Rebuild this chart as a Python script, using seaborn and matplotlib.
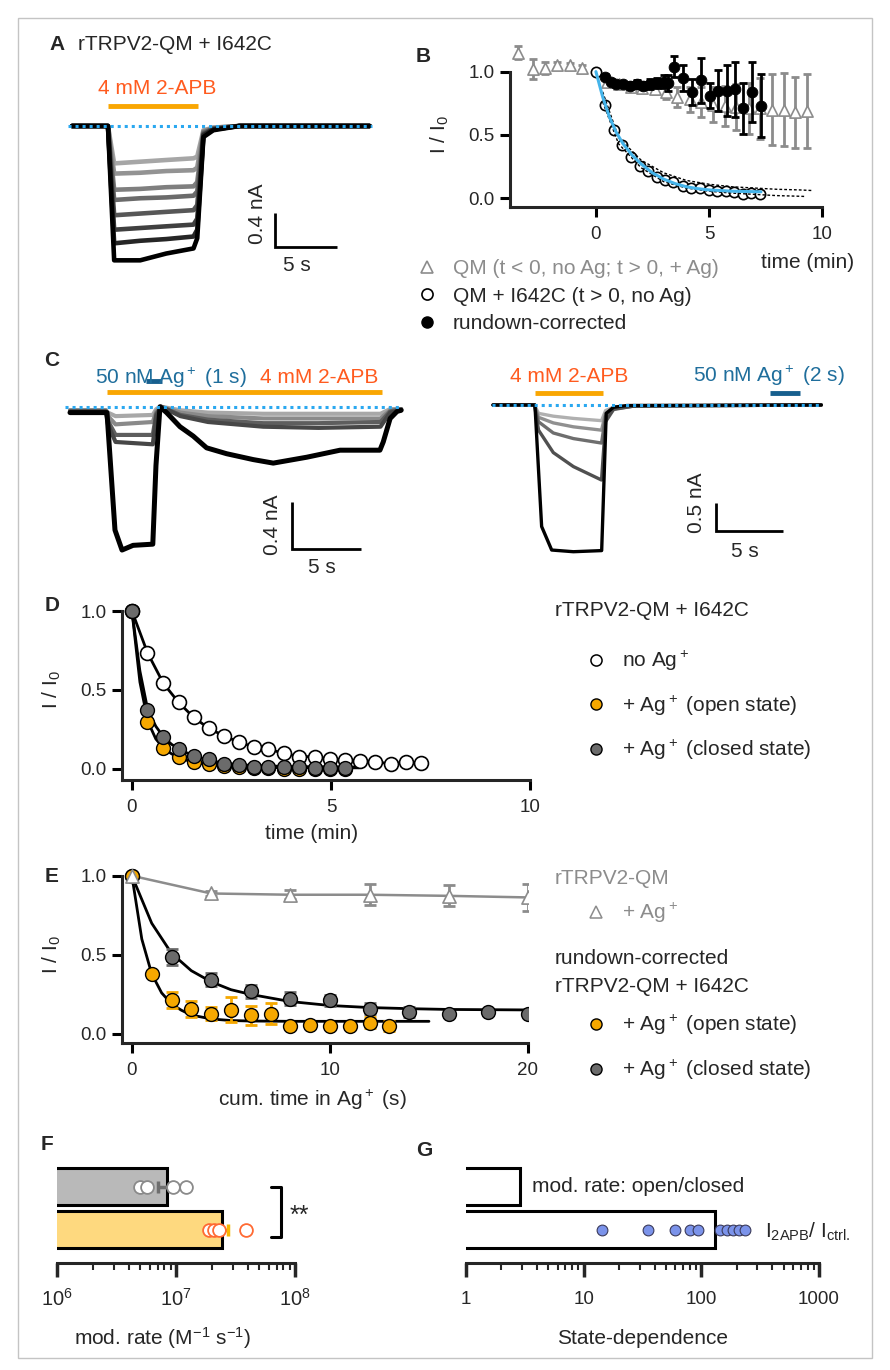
import numpy as np
import matplotlib
matplotlib.use("Agg")
import matplotlib.pyplot as plt
import seaborn as sns
from matplotlib.lines import Line2D
from matplotlib.patches import Rectangle

# ---------------- data ----------------
# A: whole-cell current sweeps (nA) at shared time points (s)
A_time = [0, 2.9, 3.4, 5.5, 7.6, 9.8, 10.1, 10.6, 11.4, 13.5, 24.0]
A_sweeps = [
    [0, 0, -0.44, -0.42, -0.40, -0.38, -0.36, -0.05, -0.02, 0, 0],
    [0, 0, -0.56, -0.55, -0.53, -0.52, -0.49, -0.06, -0.02, 0, 0],
    [0, 0, -0.75, -0.74, -0.72, -0.71, -0.66, -0.07, -0.03, 0, 0],
    [0, 0, -0.87, -0.85, -0.84, -0.82, -0.77, -0.08, -0.03, 0, 0],
    [0, 0, -1.05, -1.03, -1.01, -0.99, -0.93, -0.09, -0.03, 0, 0],
    [0, 0, -1.22, -1.20, -1.18, -1.16, -1.09, -0.10, -0.04, 0, 0],
    [0, 0, -1.38, -1.35, -1.33, -1.30, -1.22, -0.11, -0.04, 0, 0],
    [0, 0, -1.58, -1.58, -1.50, -1.44, -1.32, -0.13, -0.05, 0, 0],
]
A_apb = (2.9, 10.2)

# C left: 2-APB with a 1 s Ag+ pulse
CL_gray_time = [0, 2.6, 2.75, 3.3, 6.0, 6.25, 6.6, 8.0, 10.0, 14.0, 18.0, 22.5, 23.2, 24.0]
CL_gray = [
    [-0.03, -0.03, -0.05, -0.08, -0.07, -0.02, 0.0, -0.03, -0.05, -0.06, -0.06, -0.06, -0.02, -0.02],
    [-0.03, -0.03, -0.08, -0.15, -0.13, -0.04, 0.0, -0.05, -0.08, -0.10, -0.10, -0.10, -0.03, -0.02],
    [-0.04, -0.04, -0.12, -0.24, -0.24, -0.06, 0.0, -0.07, -0.11, -0.14, -0.14, -0.13, -0.04, -0.02],
    [-0.04, -0.04, -0.15, -0.30, -0.32, -0.08, 0.0, -0.08, -0.13, -0.17, -0.18, -0.17, -0.05, -0.03],
]
CL_black_time = [0, 2.54, 2.68, 3.26, 3.77, 4.57, 6.0, 6.23, 6.52, 7.0, 7.97, 8.93, 9.9,
                 11.35, 13.28, 14.73, 17.15, 19.57, 22.46, 22.7, 23.2, 23.7, 24.0]
CL_black = [-0.05, -0.05, -0.05, -1.05, -1.22, -1.18, -1.17, -0.5, 0.0, -0.05, -0.17, -0.25, -0.35,
            -0.40, -0.45, -0.48, -0.43, -0.37, -0.37, -0.3, -0.1, -0.04, -0.03]
CL_apb = (2.68, 22.6)
CL_ag = (5.5, 6.7)

# C right: 2-APB, then a 2 s Ag+ pulse in the closed state
CR_gray_time = [0, 3.1, 3.4, 4.5, 6.0, 8.1, 8.4, 9.0, 10.5, 24.5]
CR_gray = [
    [0, 0, -0.15, -0.20, -0.24, -0.28, -0.10, -0.04, -0.01, 0],
    [0, 0, -0.22, -0.32, -0.39, -0.45, -0.15, -0.05, -0.02, 0],
    [0, 0, -0.30, -0.50, -0.60, -0.68, -0.20, -0.07, -0.02, 0],
    [0, 0, -0.45, -0.85, -1.10, -1.34, -0.30, -0.08, -0.02, 0],
]
CR_black_time = [0, 3.13, 3.63, 4.38, 6.0, 8.11, 8.45, 9.0, 10.0, 24.5]
CR_black = [0, 0, -2.17, -2.59, -2.62, -2.60, -0.15, -0.04, -0.01, 0]
CR_apb = (3.13, 8.2)
CR_ag = (20.7, 22.9)

# B: QM (gray triangles)
B_qm_t = [-3.45, -2.8, -2.25, -1.7, -1.15, -0.6, 0.5, 1.0, 1.55, 2.05, 2.6, 3.1, 3.6, 4.15,
          4.65, 5.2, 5.7, 6.2, 6.75, 7.25, 7.8, 8.3, 8.8, 9.35]
B_qm = [1.15, 1.02, 1.03, 1.05, 1.05, 1.03, 0.92, 0.90, 0.88, 0.87, 0.86, 0.84, 0.80, 0.78,
        0.76, 0.74, 0.73, 0.72, 0.71, 0.71, 0.70, 0.70, 0.68, 0.69]
B_qm_err = [0.05, 0.08, 0.05, 0.03, 0.02, 0.02, 0.02, 0.02, 0.03, 0.03, 0.04, 0.06, 0.08, 0.10,
            0.12, 0.14, 0.16, 0.18, 0.20, 0.24, 0.28, 0.29, 0.28, 0.29]
# B: rundown-corrected (black)
B_rc_t = [0.4, 0.65, 0.9, 1.2, 1.5, 1.8, 2.1, 2.4, 2.7, 3.0, 3.2, 3.45, 3.85, 4.25, 4.65, 5.05,
          5.4, 5.8, 6.15, 6.5, 6.9, 7.3]
B_rc = [0.96, 0.92, 0.90, 0.90, 0.89, 0.90, 0.89, 0.90, 0.91, 0.92, 0.91, 1.04, 0.95, 0.84,
        0.93, 0.81, 0.85, 0.85, 0.86, 0.71, 0.84, 0.73]
B_rc_err = [0.02, 0.02, 0.02, 0.02, 0.03, 0.03, 0.03, 0.04, 0.04, 0.05, 0.06, 0.08, 0.10, 0.10,
            0.18, 0.10, 0.16, 0.20, 0.22, 0.20, 0.24, 0.25]
# B: exponential fit of I642C with 95% band
B_fit_t = [0, 0.3, 0.6, 0.9, 1.2, 1.6, 2.0, 2.5, 3.0, 3.5, 4.0, 4.5, 5.0, 6.0, 7.3]
B_fit = [1.0, 0.80, 0.64, 0.52, 0.43, 0.34, 0.27, 0.20, 0.15, 0.115, 0.09, 0.075, 0.065, 0.055, 0.05]
B_hi_t = [0.3, 1, 2, 3, 4, 5, 6, 7, 8, 9, 9.6]
B_hi = [0.84, 0.48, 0.30, 0.20, 0.14, 0.11, 0.09, 0.08, 0.07, 0.065, 0.06]
B_lo_t = [0.3, 1, 2, 3, 4, 5, 6, 7, 8, 9, 9.3]
B_lo = [0.76, 0.43, 0.24, 0.13, 0.08, 0.055, 0.04, 0.03, 0.02, 0.015, 0.013]

# D: I642C, no Ag+ / + Ag+ open / + Ag+ closed
D_t = [0, 0.39, 0.79, 1.17, 1.55, 1.93, 2.3, 2.69, 3.06, 3.43, 3.83, 4.2, 4.6, 4.98, 5.36,
       5.74, 6.11, 6.5, 6.88, 7.26]
D_noag = [1.0, 0.736, 0.542, 0.422, 0.327, 0.257, 0.211, 0.169, 0.141, 0.124, 0.099, 0.078,
          0.078, 0.063, 0.057, 0.053, 0.046, 0.032, 0.044, 0.036]
D_ag_t = [0, 0.39, 0.79, 1.17, 1.55, 1.93, 2.3, 2.69, 3.06, 3.43, 3.83, 4.2, 4.6, 4.98, 5.36]
D_open = [1.0, 0.297, 0.131, 0.074, 0.042, 0.03, 0.02, 0.01, 0.005, 0.005, 0.0, 0.0, 0.0, 0.0, 0.0]
D_open_err = [0, 0.025, 0.02, 0.015, 0.01, 0.008, 0.005, 0.005, 0, 0, 0, 0, 0, 0, 0]
D_closed = [1.0, 0.373, 0.205, 0.124, 0.082, 0.063, 0.032, 0.025, 0.015, 0.015, 0.015, 0.011,
            0.004, 0.004, 0.004]
D_closed_err = [0, 0.03, 0.02, 0.015, 0.01, 0.008, 0.005, 0.005, 0, 0, 0, 0, 0, 0, 0]
D_fit_t = [0, 0.2, 0.4, 0.6, 0.8, 1.0, 1.3, 1.6, 2.0, 2.5, 3.0, 4.0, 5.7]
D_fit_open = [1.0, 0.55, 0.30, 0.19, 0.13, 0.095, 0.06, 0.04, 0.025, 0.015, 0.01, 0.008, 0.007]
D_fit_closed = [1.0, 0.62, 0.37, 0.27, 0.20, 0.155, 0.11, 0.08, 0.05, 0.032, 0.022, 0.015, 0.012]

# E: vs cumulative time in Ag+
E_qm_t = [0, 4, 8, 12, 16, 20]
E_qm = [1.0, 0.888, 0.88, 0.88, 0.873, 0.863]
E_qm_err = [0, 0.015, 0.03, 0.066, 0.066, 0.088]
E_open_t = [0, 1, 2, 3, 4, 5, 6, 7, 8, 9, 10, 11, 12, 13]
E_open = [1.0, 0.378, 0.217, 0.156, 0.129, 0.154, 0.118, 0.129, 0.049, 0.055, 0.051, 0.049, 0.072, 0.051]
E_open_err = [0, 0.01, 0.05, 0.05, 0.04, 0.08, 0.06, 0.065, 0.01, 0.01, 0.01, 0.01, 0.035, 0.03]
E_closed_t = [0, 2, 4, 6, 8, 10, 12, 14, 16, 18, 20]
E_closed = [1.0, 0.487, 0.344, 0.27, 0.224, 0.213, 0.16, 0.14, 0.124, 0.14, 0.129]
E_closed_err = [0, 0.05, 0.04, 0.04, 0.04, 0.035, 0.035, 0.03, 0.015, 0.02, 0.015]
E_fit_open_t = [0, 0.5, 1, 1.5, 2, 2.5, 3, 4, 5, 6, 8, 10, 15]
E_fit_open = [1.0, 0.60, 0.38, 0.26, 0.19, 0.15, 0.12, 0.095, 0.085, 0.082, 0.08, 0.08, 0.08]
E_fit_closed_t = [0, 1, 2, 3, 4, 5, 6, 8, 10, 12, 14, 16, 20]
E_fit_closed = [1.0, 0.70, 0.51, 0.40, 0.33, 0.28, 0.25, 0.205, 0.18, 0.167, 0.16, 0.155, 0.152]

# F: modification rates (M^-1 s^-1)
F_groups = ["closed", "open"]
F_mean = [8.35e6, 2.42e7]
F_sem = [1.25e6, 3.3e6]
F_closed_pts = [4.98e6, 5.74e6, 9.5e6, 1.21e7]
F_open_pts = [1.9e7, 2.09e7, 2.31e7, 3.85e7]

# G: state dependence
G_groups = ["rate", "ratio"]
G_mean = [2.87, 130]
G_ratio_pts = [14.2, 35.3, 59.4, 79.7, 93.7, 145, 165, 185, 210, 235]

# ---------------- style ----------------
W, H = 890, 1370
FS = 15
TICK = 13.5
ORANGE_TXT = "#ff5b1f"
ORANGE_BAR = "#f9a602"
BLUE_TXT = "#1f6e9c"
BLUE_BAR = "#175f8e"
BASE_BLUE = "#2aa8f0"
ORANGE = "#f6a800"
DGRAY = "#6b6b6b"
LGRAY = "#8c8c8c"

sns.set_theme(style="ticks")
plt.rcParams["font.family"] = ["Liberation Sans", "DejaVu Sans"]
plt.rcParams.update({
    "mathtext.fontset": "custom",
    "mathtext.rm": "Liberation Sans",
    "mathtext.it": "Liberation Sans:italic",
    "mathtext.bf": "Liberation Sans:bold",
    "mathtext.default": "regular",
    "axes.linewidth": 2.2,
})

fig = plt.figure(figsize=(W / 100, H / 100), dpi=100)


def px_axes(x0, y0, x1, y1):
    return fig.add_axes([x0 / W, 1 - y1 / H, (x1 - x0) / W, (y1 - y0) / H])


def ftext(x, y, s, **kw):
    kw.setdefault("va", "center")
    kw.setdefault("ha", "left")
    kw.setdefault("fontsize", FS)
    fig.text(x / W, 1 - y / H, s, **kw)


def letter(x, y, s):
    ftext(x, y, s, fontsize=15, fontweight="bold", ha="center")


def traces(ax, t, sweeps, colors, lw):
    for y, c in zip(sweeps, colors):
        sns.lineplot(x=t, y=y, color=c, lw=lw, estimator=None, sort=False, ax=ax)


def scalebar(ax, x0, y0, dx, dy, xlab, ylab, xlab_pos, ylab_pos):
    ax.plot([x0, x0, x0 + dx], [y0 + dy, y0, y0], color="black", lw=2.0,
            solid_joinstyle="miter", solid_capstyle="butt")
    ax.text(*xlab_pos, xlab, ha="center", va="center", fontsize=FS)
    ax.text(*ylab_pos, ylab, ha="center", va="center", fontsize=FS, rotation=90)


def style_xy(ax, ybot):
    sns.despine(ax=ax)
    ax.spines["left"].set_bounds(ybot, 1.0)
    ax.set_yticks([0, 0.5, 1.0], labels=["0.0", "0.5", "1.0"])
    ax.tick_params(width=2.2, length=7, labelsize=TICK, color="black", pad=4)
    ax.tick_params(axis="x", pad=7)
    ax.set_xlabel("")
    ax.set_ylabel("")


def marker_legend(handles, labels, x, y, spacing):
    return fig.legend(handles, labels, loc="upper left", bbox_to_anchor=(x / W, 1 - y / H),
                      frameon=False, fontsize=FS, handlelength=1.0, handletextpad=0.75,
                      labelspacing=spacing, borderpad=0, borderaxespad=0)


# frame
fig.add_artist(Rectangle((18 / W, 1 - 1358 / H), (872 - 18) / W, (1358 - 18) / H,
                         transform=fig.transFigure, fill=False, ec="#c4c4c4", lw=1))

# ---------------- A ----------------
axA = px_axes(60, 30, 380, 290)
gray8 = ["#a6a6a6", "#939393", "#7f7f7f", "#6b6b6b", "#575757", "#404040", "#262626", "#000000"]
traces(axA, A_time, A_sweeps, gray8, 3.3)
axA.hlines(0, -0.3, 24.2, color=BASE_BLUE, lw=2.2, linestyles=(0, (1, 1.3)), zorder=5)
axA.hlines(0.235, *A_apb, color=ORANGE_BAR, lw=3.5)
scalebar(axA, 16.37, -1.42, 5, 0.4, "5 s", "0.4 nA", (18.1, -1.64), (15.0, -1.03))
axA.set_xlim(-0.968, 24.84)
axA.set_ylim(-1.929, 1.129)
axA.axis("off")
letter(57, 45, "A")
ftext(78, 45, "rTRPV2-QM + I642C")
ftext(157, 88, "4 mM 2-APB", color=ORANGE_TXT, ha="center")

# ---------------- B ----------------
axB = px_axes(510, 40, 822, 207)
axB.errorbar(B_qm_t, B_qm, yerr=B_qm_err, fmt="none", ecolor=LGRAY, elinewidth=2,
             capsize=3, capthick=2, zorder=2)
sns.scatterplot(x=B_qm_t, y=B_qm, marker="^", s=65, color="white", edgecolor=LGRAY,
                linewidth=1.2, zorder=3, ax=axB)
sns.scatterplot(x=D_t, y=D_noag, marker="o", s=55, color="white", edgecolor="black",
                linewidth=1.2, zorder=4, ax=axB)
sns.lineplot(x=B_hi_t, y=B_hi, color="black", lw=1, ls=(0, (2, 1.5)), zorder=5, ax=axB)
sns.lineplot(x=B_lo_t, y=B_lo, color="black", lw=1, ls=(0, (2, 1.5)), zorder=5, ax=axB)
sns.lineplot(x=B_fit_t, y=B_fit, color="#45b4ea", lw=2.2, zorder=5, ax=axB)
axB.errorbar(B_rc_t, B_rc, yerr=B_rc_err, fmt="none", ecolor="black", elinewidth=2,
             capsize=3, capthick=2, zorder=6)
sns.scatterplot(x=B_rc_t, y=B_rc, marker="o", s=60, color="black", edgecolor="black",
                zorder=7, ax=axB)
axB.set_xlim(-3.8, 10)
axB.set_ylim(-0.07, 1.25)
axB.set_xticks([0, 5, 10])
style_xy(axB, -0.07)
letter(423, 57, "B")
ftext(440, 135, "I / I$_0$", rotation=90, ha="center")
ftext(808, 263, "time (min)", ha="center")
hB = [Line2D([], [], ls="none", marker="^", ms=8, mfc="white", mec=LGRAY, mew=1.2),
      Line2D([], [], ls="none", marker="o", ms=8, mfc="white", mec="black", mew=1.2),
      Line2D([], [], ls="none", marker="o", ms=8, mfc="black", mec="black")]
legB = marker_legend(hB, ["QM (t < 0, no Ag; t > 0, + Ag)", "QM + I642C (t > 0, no Ag)",
                          "rundown-corrected"], 416.6, 259, 0.41)
legB.get_texts()[0].set_color(LGRAY)

# ---------------- C ----------------
axCL = px_axes(60, 340, 410, 580)
traces(axCL, CL_gray_time, CL_gray, ["#a8a8a8", "#8a8a8a", "#5e5e5e", "#474747"], 3.0)
traces(axCL, CL_black_time, [CL_black], ["black"], 3.6)
axCL.hlines(0, -0.36, 24.06, color=BASE_BLUE, lw=2.2, linestyles=(0, (1, 1.3)), zorder=5)
axCL.hlines(0.125, *CL_apb, color=ORANGE_BAR, lw=3.5)
axCL.hlines(0.219, *CL_ag, color=BLUE_BAR, lw=3.5)
scalebar(axCL, 16.09, -1.211, 5, 0.4, "5 s", "0.4 nA", (18.26, -1.365), (14.64, -1.007))
axCL.set_xlim(-0.725, 24.64)
axCL.set_ylim(-1.475, 0.568)
axCL.axis("off")
letter(52, 361, "C")
ftext(95, 378, "50 nM Ag$^+$ (1 s)", color=BLUE_TXT)
ftext(260, 378, "4 mM 2-APB", color=ORANGE_TXT)

axCR = px_axes(480, 340, 830, 580)
traces(axCR, CR_gray_time, CR_gray, ["#b0b0b0", "#909090", "#6e6e6e", "#505050"], 2.4)
traces(axCR, CR_black_time, [CR_black], ["black"], 2.4)
axCR.hlines(0, -0.07, 24.55, color=BASE_BLUE, lw=2.2, linestyles=(0, (1, 1.3)), zorder=5)
axCR.hlines(0.214, *CR_apb, color=ORANGE_BAR, lw=3.5)
axCR.hlines(0.214, *CR_ag, color=BLUE_BAR, lw=3.5)
scalebar(axCR, 16.64, -2.25, 5, 0.5, "5 s", "0.5 nA", (18.8, -2.625), (15.2, -1.75))
axCR.set_xlim(-0.97, 25.15)
axCR.set_ylim(-3.125, 1.16)
axCR.axis("off")
ftext(510, 376, "4 mM 2-APB", color=ORANGE_TXT)
ftext(693, 376, "50 nM Ag$^+$ (2 s)", color=BLUE_TXT)

# ---------------- D ----------------
axD = px_axes(122, 600, 530, 780)
sns.lineplot(x=D_t, y=D_noag, color="black", lw=2, zorder=3, ax=axD)
sns.lineplot(x=D_fit_t, y=D_fit_closed, color="black", lw=2, zorder=3, ax=axD)
sns.lineplot(x=D_fit_t, y=D_fit_open, color="black", lw=2, zorder=3, ax=axD)
axD.errorbar(D_ag_t, D_open, yerr=D_open_err, fmt="none", ecolor=ORANGE, elinewidth=2,
             capsize=3, capthick=2, zorder=4)
axD.errorbar(D_ag_t, D_closed, yerr=D_closed_err, fmt="none", ecolor=DGRAY, elinewidth=2,
             capsize=3, capthick=2, zorder=4)
sns.scatterplot(x=D_t, y=D_noag, marker="o", s=100, color="white", edgecolor="black",
                linewidth=1.2, zorder=5, ax=axD)
sns.scatterplot(x=D_ag_t, y=D_open, marker="o", s=100, color=ORANGE, edgecolor="black",
                linewidth=1.0, zorder=5, ax=axD)
sns.scatterplot(x=D_ag_t, y=D_closed, marker="o", s=100, color=DGRAY, edgecolor="black",
                linewidth=1.0, zorder=6, ax=axD)
axD.set_xlim(-0.25, 10)
axD.set_ylim(-0.07, 1.07)
axD.set_xticks([0, 5, 10])
style_xy(axD, -0.07)
letter(52, 606, "D")
ftext(52, 690, "I / I$_0$", rotation=90, ha="center")
ftext(312, 833, "time (min)", ha="center")
ftext(555, 610, "rTRPV2-QM + I642C")
hD = [Line2D([], [], ls="none", marker="o", ms=8, mfc="white", mec="black", mew=1.1),
      Line2D([], [], ls="none", marker="o", ms=8, mfc=ORANGE, mec="black", mew=1.0),
      Line2D([], [], ls="none", marker="o", ms=8, mfc=DGRAY, mec="black", mew=1.0)]
marker_legend(hD, ["no Ag$^+$", "+ Ag$^+$ (open state)", "+ Ag$^+$ (closed state)"],
              585.6, 649, 0.98)

# ---------------- E ----------------
axE = px_axes(122, 865, 528, 1043)
sns.lineplot(x=E_qm_t, y=E_qm, color=LGRAY, lw=1.8, zorder=2, ax=axE)
sns.lineplot(x=E_fit_closed_t, y=E_fit_closed, color="black", lw=2, zorder=3, ax=axE)
sns.lineplot(x=E_fit_open_t, y=E_fit_open, color="black", lw=2, zorder=3, ax=axE)
axE.errorbar(E_qm_t, E_qm, yerr=E_qm_err, fmt="none", ecolor=LGRAY, elinewidth=2,
             capsize=4, capthick=2, zorder=3)
axE.errorbar(E_closed_t, E_closed, yerr=E_closed_err, fmt="none", ecolor=DGRAY, elinewidth=2,
             capsize=4, capthick=2, zorder=4)
axE.errorbar(E_open_t, E_open, yerr=E_open_err, fmt="none", ecolor=ORANGE, elinewidth=2,
             capsize=4, capthick=2, zorder=4)
sns.scatterplot(x=E_closed_t, y=E_closed, marker="o", s=100, color=DGRAY, edgecolor="black",
                linewidth=1.0, zorder=5, ax=axE)
sns.scatterplot(x=E_open_t, y=E_open, marker="o", s=100, color=ORANGE, edgecolor="black",
                linewidth=1.0, zorder=5, ax=axE)
sns.scatterplot(x=E_qm_t, y=E_qm, marker="^", s=90, color="white", edgecolor=LGRAY,
                linewidth=1.2, zorder=6, ax=axE)
axE.set_xlim(-0.5, 20)
axE.set_ylim(-0.057, 1.068)
axE.set_xticks([0, 10, 20])
style_xy(axE, -0.057)
letter(52, 876, "E")
ftext(52, 955, "I / I$_0$", rotation=90, ha="center")
ftext(312, 1100, "cum. time in Ag$^+$ (s)", ha="center")
ftext(555, 879, "rTRPV2-QM", color=LGRAY)
ftext(555, 958, "rundown-corrected")
ftext(555, 987, "rTRPV2-QM + I642C")
legE1 = marker_legend([Line2D([], [], ls="none", marker="^", ms=9, mfc="white", mec=LGRAY,
                              mew=1.1)], ["+ Ag$^+$"], 585.6, 901, 0.6)
legE1.get_texts()[0].set_color(LGRAY)
marker_legend(hD[1:], ["+ Ag$^+$ (open state)", "+ Ag$^+$ (closed state)"], 585.6, 1013, 1.0)

# ---------------- F ----------------
axF = px_axes(57, 1160, 295, 1263)
axF.set_xscale("log")
sns.barplot(x=F_mean, y=F_groups, hue=F_groups, palette=["#b9b9b9", "#fed97f"], legend=False,
            orient="h", width=0.86, edgecolor="black", linewidth=2.2, errorbar=None,
            saturation=1, ax=axF)
axF.errorbar(F_mean[0], 0, xerr=F_sem[0], fmt="none", ecolor="#6e6e6e", elinewidth=2.5,
             capsize=4, capthick=2.5, zorder=4)
axF.errorbar(F_mean[1], 1, xerr=F_sem[1], fmt="none", ecolor="#f5b800", elinewidth=2.5,
             capsize=4, capthick=2.5, zorder=4)
sns.scatterplot(x=F_closed_pts, y=np.zeros(len(F_closed_pts)), marker="o", s=85, color="white",
                edgecolor="#8a8a8a", linewidth=1.3, zorder=5, ax=axF)
sns.scatterplot(x=F_open_pts, y=np.ones(len(F_open_pts)), marker="o", s=85, color="white",
                edgecolor="#ff6a33", linewidth=1.3, zorder=5, ax=axF)
axF.plot([6.3e7, 7.7e7, 7.7e7, 6.3e7], [0, 0, 1.17, 1.17], color="black", lw=2.2, clip_on=False)
axF.set_xlim(1e6, 1e8)
axF.set_ylim(1.78, -0.62)
sns.despine(ax=axF, left=True)
axF.set_yticks([])
axF.tick_params(axis="x", which="major", width=2.5, length=10, labelsize=TICK + 1, pad=8)
axF.tick_params(axis="x", which="minor", width=1.5, length=5)
axF.set_xlabel("")
axF.set_ylabel("")
letter(47, 1145, "F")
ftext(299, 1216, "**", ha="center", fontsize=FS + 3)
ftext(162, 1338, "mod. rate (M$^{-1}$ s$^{-1}$)", ha="center")

# ---------------- G ----------------
axG = px_axes(466, 1160, 819, 1263)
axG.set_xscale("log")
sns.barplot(x=G_mean, y=G_groups, color="white", orient="h", width=0.86, edgecolor="black",
            linewidth=2.2, errorbar=None, saturation=1, ax=axG)
sns.scatterplot(x=G_ratio_pts, y=np.ones(len(G_ratio_pts)), marker="o", s=60, color="#7b93ea",
                edgecolor="#3a3a5a", linewidth=0.8, zorder=5, ax=axG)
axG.set_xlim(1, 1000)
axG.set_ylim(1.78, -0.62)
sns.despine(ax=axG, left=True)
axG.set_yticks([])
axG.set_xticks([1, 10, 100, 1000], labels=["1", "10", "100", "1000"])
axG.tick_params(axis="x", which="major", width=2.5, length=10, labelsize=TICK, pad=10)
axG.tick_params(axis="x", which="minor", width=1.5, length=5)
axG.set_xlabel("")
axG.set_ylabel("")
letter(424, 1150, "G")
ftext(532, 1186, "mod. rate: open/closed")
ftext(765, 1232, "I$_{2APB}$/ I$_{ctrl.}$")
ftext(643, 1338, "State-dependence", ha="center")

fig.savefig("out.png", dpi=100)
